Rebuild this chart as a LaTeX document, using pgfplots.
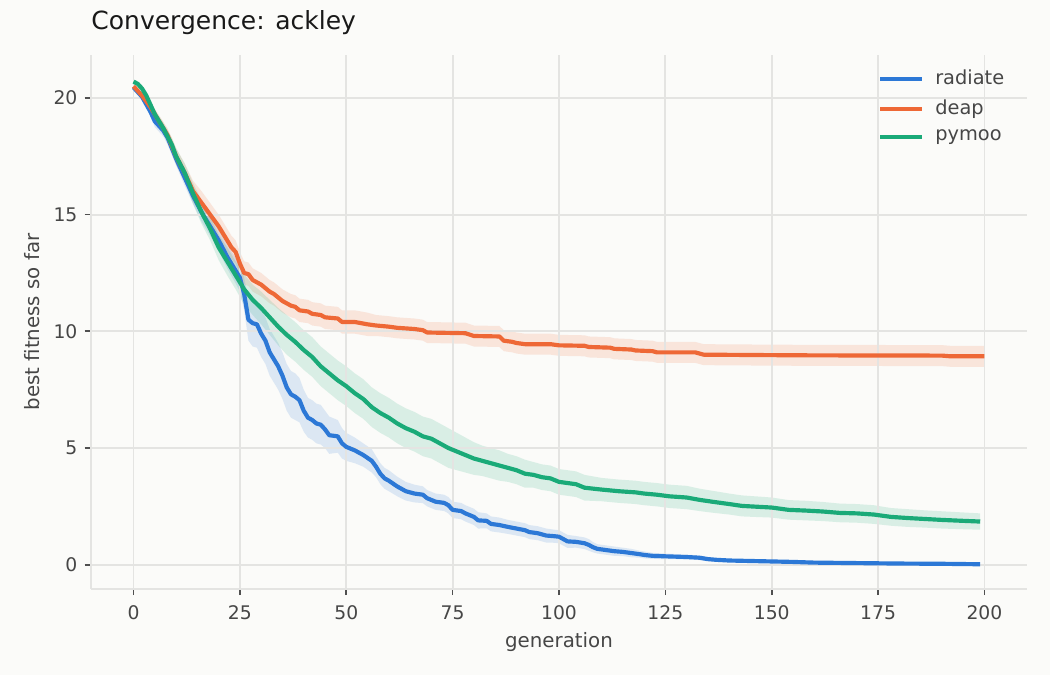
\documentclass[border=0pt]{standalone}
\usepackage{pgfplots}
\pgfplotsset{compat=1.18}
\usepackage{pgfplotstable}
\usepgfplotslibrary{fillbetween}
\usepackage{fontspec}
\setmainfont{DejaVu Sans}
\definecolor{bg}{RGB}{251,251,249}
\definecolor{cblue}{RGB}{44,120,214}
\definecolor{corange}{RGB}{238,104,54}
\definecolor{cgreen}{RGB}{26,170,120}
\definecolor{gridc}{RGB}{228,228,226}
\definecolor{tickc}{RGB}{80,80,80}
\definecolor{txt}{RGB}{70,70,70}
\pgfdeclarelayer{pagebg}
\pgfplotsset{
  layers/mylayers/.define layer set={pagebg,axis background,axis grid,axis ticks,axis lines,axis tick labels,pre main,main,axis descriptions,axis foreground}{},
}

\pgfplotstableread{
x m s
0 20.45 0.10
2 20.05 0.15
4 19.4 0.2
5 19.0 0.25
7 18.6 0.25
8 18.3 0.3
10 17.4 0.3
12 16.6 0.35
14 15.8 0.35
16 15.1 0.4
18 14.5 0.4
20 13.9 0.45
22 13.2 0.5
24 12.6 0.55
25 12.3 0.6
26 11.6 0.7
27 10.5 0.9
28 10.35 1.0
29 10.3 1.0
30 9.9 1.0
31 9.6 1.0
32 9.1 1.0
33 8.8 1.0
34 8.5 1.0
35 8.1 1.0
36 7.6 1.0
37 7.3 1.0
38 7.2 1.0
39 7.05 0.95
40 6.6 0.9
41 6.3 0.85
42 6.2 0.85
43 6.05 0.85
44 6.0 0.85
45 5.8 0.8
46 5.55 0.8
48 5.5 0.7
49 5.2 0.65
50 5.05 0.6
52 4.9 0.55
54 4.7 0.5
56 4.45 0.5
57 4.2 0.45
58 3.9 0.45
59 3.7 0.45
60 3.6 0.45
62 3.35 0.42
64 3.15 0.4
66 3.05 0.38
68 3.0 0.36
69 2.85 0.35
71 2.7 0.35
73 2.65 0.35
74 2.55 0.35
75 2.35 0.35
77 2.3 0.35
78 2.2 0.35
80 2.05 0.35
81 1.9 0.35
83 1.88 0.32
84 1.75 0.32
86 1.7 0.32
88 1.62 0.3
90 1.55 0.3
92 1.48 0.3
93 1.4 0.3
95 1.35 0.3
97 1.25 0.3
99 1.22 0.28
100 1.2 0.28
101 1.1 0.28
102 1.0 0.28
104 0.98 0.25
106 0.92 0.25
107 0.85 0.25
108 0.75 0.22
109 0.68 0.2
111 0.63 0.2
113 0.58 0.2
115 0.55 0.18
117 0.5 0.18
119 0.45 0.15
120 0.42 0.15
122 0.38 0.13
125 0.36 0.12
130 0.33 0.1
133 0.3 0.1
135 0.24 0.08
137 0.21 0.07
140 0.18 0.06
145 0.16 0.05
150 0.14 0.04
155 0.12 0.03
160 0.09 0.03
170 0.07 0.02
180 0.05 0.02
190 0.04 0.01
199 0.02 0.01
}\radiate

\pgfplotstableread{
x m s
0 20.5 0.1
2 20.1 0.15
4 19.6 0.2
6 19.0 0.25
8 18.4 0.3
10 17.5 0.35
12 16.8 0.4
14 16.0 0.45
16 15.5 0.5
18 15.0 0.5
20 14.5 0.5
22 13.9 0.5
23 13.6 0.5
24 13.4 0.5
25 12.9 0.5
26 12.5 0.5
27 12.45 0.5
28 12.2 0.5
30 12.0 0.5
32 11.7 0.5
33 11.6 0.5
35 11.3 0.5
37 11.1 0.5
38 11.05 0.5
39 10.9 0.5
41 10.85 0.5
42 10.75 0.5
44 10.7 0.5
45 10.6 0.5
48 10.55 0.5
49 10.4 0.5
52 10.4 0.5
55 10.3 0.5
57 10.25 0.45
60 10.2 0.45
62 10.15 0.45
66 10.1 0.45
68 10.05 0.45
69 9.95 0.45
78 9.92 0.45
80 9.8 0.45
86 9.78 0.45
87 9.6 0.45
89 9.55 0.45
90 9.5 0.45
92 9.45 0.45
98 9.45 0.45
100 9.4 0.45
106 9.38 0.45
107 9.33 0.45
112 9.3 0.45
113 9.25 0.45
117 9.22 0.45
118 9.18 0.45
122 9.15 0.45
123 9.1 0.45
132 9.1 0.45
134 9.0 0.45
150 8.98 0.45
160 8.97 0.45
190 8.96 0.45
192 8.93 0.45
200 8.93 0.45
}\deap

\pgfplotstableread{
x m s
0 20.7 0.1
1 20.6 0.1
2 20.4 0.15
3 20.1 0.15
5 19.3 0.2
7 18.7 0.25
9 18.0 0.3
10 17.5 0.35
12 16.8 0.4
14 15.9 0.45
16 15.1 0.5
18 14.4 0.5
20 13.6 0.55
22 13.0 0.6
24 12.4 0.6
26 11.8 0.65
28 11.35 0.65
30 11.0 0.7
32 10.6 0.75
34 10.2 0.8
36 9.85 0.85
38 9.55 0.85
40 9.2 0.85
42 8.9 0.85
44 8.5 0.85
46 8.2 0.85
48 7.9 0.85
50 7.65 0.85
52 7.35 0.85
54 7.1 0.85
56 6.75 0.85
58 6.5 0.85
60 6.3 0.85
62 6.05 0.85
64 5.85 0.85
66 5.7 0.85
68 5.5 0.85
70 5.4 0.85
72 5.2 0.85
74 5.0 0.85
76 4.85 0.8
78 4.7 0.75
80 4.55 0.7
82 4.45 0.65
84 4.35 0.65
86 4.25 0.65
88 4.15 0.6
90 4.05 0.6
92 3.9 0.6
94 3.85 0.55
96 3.75 0.55
98 3.7 0.55
100 3.55 0.55
102 3.5 0.55
104 3.45 0.55
106 3.3 0.55
110 3.22 0.5
114 3.15 0.5
118 3.1 0.5
120 3.05 0.5
123 3.0 0.5
126 2.93 0.5
130 2.88 0.5
133 2.78 0.48
136 2.7 0.47
140 2.6 0.45
143 2.52 0.45
147 2.48 0.44
150 2.45 0.43
154 2.35 0.42
158 2.32 0.42
162 2.28 0.41
166 2.22 0.4
170 2.2 0.4
174 2.15 0.4
178 2.05 0.38
182 2.0 0.38
186 1.96 0.37
190 1.92 0.37
195 1.88 0.36
199 1.85 0.35
}\pymoo

\begin{document}
\begin{tikzpicture}
\begin{axis}[
  set layers=mylayers,
  clip mode=individual,
  at={(0,0)}, anchor=south west,
  scale only axis, width=449.28pt, height=256.32pt,
  xmin=-10, xmax=210, ymin=-1.04, ymax=21.84,
  axis lines*=left,
  axis line style={draw=gridc, line width=0.9pt},
  xtick={0,25,...,200}, ytick={0,5,...,20},
  grid=major,
  major grid style={draw=gridc, line width=0.9pt},
  tick align=outside,
  major tick length=3pt,
  tick style={draw=tickc, line width=0.8pt},
  tick label style={font=\fontsize{9}{10}\selectfont, text=txt},
  x tick label style={yshift=-1.5pt},
  /pgf/number format/assume math mode=true,
  xlabel={generation}, ylabel={best fitness so far},
  label style={font=\fontsize{9.5}{11}\selectfont, text=txt},
  xlabel style={at={(axis description cs:0.5,-0.110)}, anchor=base},
  ylabel style={at={(axis description cs:-0.0545,0.5)}, anchor=base},
  title={Convergence: ackley},
  title style={at={(axis description cs:0,1.0238)}, anchor=base west, yshift=0pt, inner sep=0pt, font=\fontsize{12}{14}\selectfont, text=black!90},
  legend style={draw=none, fill=none, at={(axis description cs:0.995,0.988)}, anchor=north east,
    font=\fontsize{9.3}{11}\selectfont, text=txt, row sep=1.8pt},
  legend cell align=left,
  legend image code/.code={\draw[#1, line width=2pt] (0pt,0pt) -- (20pt,0pt);},
  legend style={nodes={inner xsep=5.5pt}},
]
\begin{pgfonlayer}{pagebg}
\fill[bg] ([xshift=-43.68pt,yshift=-41.28pt]rel axis cs:0,0) rectangle ([xshift=11.04pt,yshift=26.4pt]rel axis cs:1,1);
\end{pgfonlayer}
\addplot[name path=rlo, draw=none, forget plot] table[x=x, y expr=\thisrow{m}-\thisrow{s}] {\radiate};
\addplot[name path=rhi, draw=none, forget plot] table[x=x, y expr=\thisrow{m}+\thisrow{s}] {\radiate};
\addplot[fill=cblue, fill opacity=0.15, draw=none, forget plot] fill between[of=rlo and rhi];
\addplot[name path=dlo, draw=none, forget plot] table[x=x, y expr=\thisrow{m}-\thisrow{s}] {\deap};
\addplot[name path=dhi, draw=none, forget plot] table[x=x, y expr=\thisrow{m}+\thisrow{s}] {\deap};
\addplot[fill=corange, fill opacity=0.15, draw=none, forget plot] fill between[of=dlo and dhi];
\addplot[name path=plo, draw=none, forget plot] table[x=x, y expr=\thisrow{m}-\thisrow{s}] {\pymoo};
\addplot[name path=phi, draw=none, forget plot] table[x=x, y expr=\thisrow{m}+\thisrow{s}] {\pymoo};
\addplot[fill=cgreen, fill opacity=0.15, draw=none, forget plot] fill between[of=plo and phi];
\addplot[cblue, line width=2pt, line join=round] table[x=x, y=m] {\radiate};
\addlegendentry{radiate}
\addplot[corange, line width=2pt, line join=round] table[x=x, y=m] {\deap};
\addlegendentry{deap}
\addplot[cgreen, line width=2pt, line join=round] table[x=x, y=m] {\pymoo};
\addlegendentry{pymoo}
\end{axis}
\end{tikzpicture}
\end{document}
